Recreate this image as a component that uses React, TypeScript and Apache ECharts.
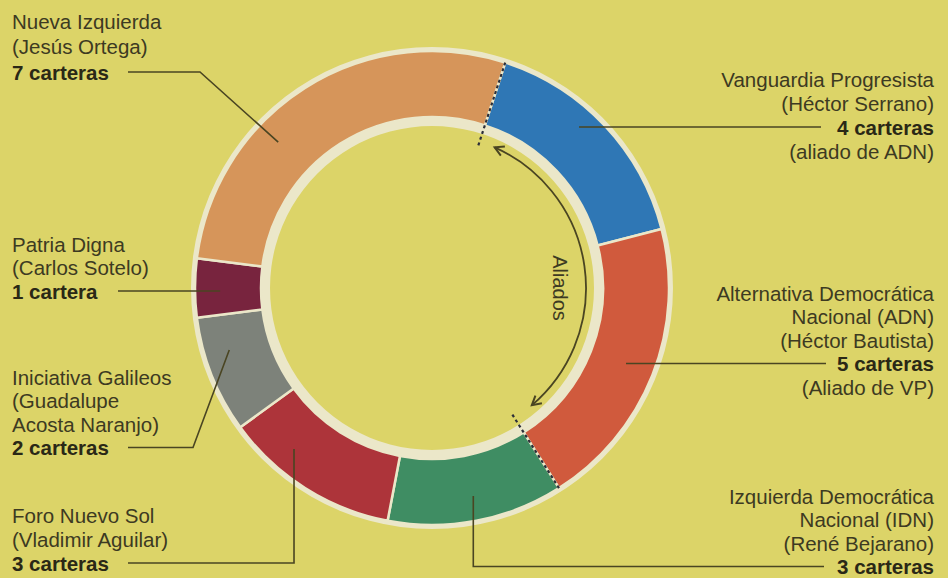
import React, { useEffect, useRef } from 'react';
import * as echarts from 'echarts';

// ---- data ----
const parties = [
  'Vanguardia Progresista',
  'Alternativa Democrática Nacional (ADN)',
  'Izquierda Democrática Nacional (IDN)',
  'Foro Nuevo Sol',
  'Iniciativa Galileos',
  'Patria Digna',
  'Nueva Izquierda',
];
const carteras = [4, 5, 3, 3, 2, 1, 7];
const labelHeads: string[][] = [
  ['Vanguardia Progresista', '(Héctor Serrano)'],
  ['Alternativa Democrática', 'Nacional (ADN)', '(Héctor Bautista)'],
  ['Izquierda Democrática', 'Nacional (IDN)', '(René Bejarano)'],
  ['Foro Nuevo Sol', '(Vladimir Aguilar)'],
  ['Iniciativa Galileos', '(Guadalupe', 'Acosta Naranjo)'],
  ['Patria Digna', '(Carlos Sotelo)'],
  ['Nueva Izquierda', '(Jesús Ortega)'],
];
const labelNotes = ['(aliado de ADN)', '(Aliado de VP)', '', '', '', '', ''];
const allyIndices = [0, 1];
const alliesLabel = 'Aliados';

// ---- style / layout ----
const colors = ['#2f77b5', '#d05a3d', '#3f8d63', '#ad343a', '#7d827a', '#78243e', '#d6955a'];
const BG = '#dcd468';
const RIM = '#ebe7c9';
const TEXT = '#3d3a22';
const BOLD = '#2a2816';
const LINE = '#4a4522';
const CX = 432;
const CY = 288;
const R_IN = 171;
const R_OUT = 237;
const START_FROM_TOP = 18; // degrees clockwise from 12 o'clock
const FONT = '"Liberation Sans", Arial, sans-serif';
const FS = 20.5;

type Lay = {
  side: 'left' | 'right';
  x: number;
  y0: number;
  lh: number;
  frac: number;
  kind: 'h' | 'down' | 'elbow';
  end: number;
  elbowX?: number;
};
const layouts: Lay[] = [
  { side: 'right', x: 934, y0: 79, lh: 24, frac: 0.45, kind: 'h', end: 821 },
  { side: 'right', x: 934, y0: 293, lh: 23.5, frac: 0.53, kind: 'h', end: 826 },
  { side: 'right', x: 934, y0: 496, lh: 23.5, frac: 0.49, kind: 'down', end: 824 },
  { side: 'left', x: 12, y0: 515, lh: 24, frac: 0.69, kind: 'down', end: 128 },
  { side: 'left', x: 12, y0: 377, lh: 23.5, frac: 0.66, kind: 'elbow', elbowX: 193, end: 128 },
  { side: 'left', x: 12, y0: 244, lh: 23.5, frac: 0.64, kind: 'h', end: 118 },
  { side: 'left', x: 12, y0: 21, lh: 25.5, frac: 0.36, kind: 'elbow', elbowX: 200, end: 128 },
];

const total = carteras.reduce((a, b) => a + b, 0);
const degPer = 360 / total;
const rad = (d: number) => (d * Math.PI) / 180;
const polar = (thetaFromTop: number, r: number): [number, number] => [
  CX + r * Math.sin(rad(thetaFromTop)),
  CY - r * Math.cos(rad(thetaFromTop)),
];
const sliceStart = (i: number) =>
  START_FROM_TOP + carteras.slice(0, i).reduce((a, b) => a + b, 0) * degPer;

function buildGraphics() {
  const els: any[] = [];
  // labels + leader lines
  parties.forEach((_, i) => {
    const L = layouts[i];
    const lines = [...labelHeads[i]];
    const v = carteras[i];
    const boldLine = `${v} ${v === 1 ? 'cartera' : 'carteras'}`;
    const boldIdx = lines.length;
    lines.push(boldLine);
    if (labelNotes[i]) lines.push(labelNotes[i]);
    els.push({
      type: 'text',
      z: 20,
      style: {
        text: lines.map((t, k) => (k === boldIdx ? `{b|${t}}` : `{n|${t}}`)).join('\n'),
        x: L.x,
        y: L.y0 - L.lh / 2,
        textAlign: L.side === 'left' ? 'left' : 'right',
        textVerticalAlign: 'top',
        rich: {
          n: { fontSize: FS, fontFamily: FONT, fill: TEXT, lineHeight: L.lh },
          b: { fontSize: FS, fontFamily: FONT, fontWeight: 'bold', fill: BOLD, lineHeight: L.lh },
        },
      },
    });
    const rowY = L.y0 + boldIdx * L.lh;
    const theta = sliceStart(i) + L.frac * v * degPer;
    const [ax, ay] = polar(theta, 212);
    let pts: number[][];
    if (L.kind === 'h') pts = [[ax, rowY], [L.end, rowY]];
    else if (L.kind === 'down') pts = [[ax, ay], [ax, rowY], [L.end, rowY]];
    else pts = [[ax, ay], [L.elbowX as number, rowY], [L.end, rowY]];
    els.push({
      type: 'polyline',
      z: 15,
      shape: { points: pts },
      style: { stroke: LINE, lineWidth: 1.6, fill: 'none' },
    });
  });

  // dashed separators at the alliance boundaries
  const a0 = sliceStart(allyIndices[0]);
  const last = allyIndices[allyIndices.length - 1];
  const a1 = sliceStart(last) + carteras[last] * degPer;
  [a0, a1].forEach((a) => {
    const [x1, y1] = polar(a, 150);
    const [x2, y2] = polar(a, R_OUT);
    els.push({
      type: 'line',
      z: 12,
      shape: { x1, y1, x2, y2 },
      style: { stroke: '#2c2e38', lineWidth: 2.2, lineDash: [3, 3] },
    });
  });

  // arrow arc
  const AR = 154;
  const t0 = a0 + 6;
  const t1 = a1 - 8;
  els.push({
    type: 'arc',
    z: 12,
    shape: { cx: CX, cy: CY, r: AR, startAngle: rad(t0 - 90), endAngle: rad(t1 - 90), clockwise: true },
    style: { stroke: LINE, lineWidth: 1.8, fill: 'none' },
  });
  const head = (t: number, sign: number) => {
    const [px, py] = polar(t, AR);
    const dx = sign * Math.cos(rad(t));
    const dy = sign * Math.sin(rad(t));
    const nx = -dy;
    const ny = dx;
    const Ln = 9;
    const W = 5;
    return [
      [px - dx * Ln + nx * W, py - dy * Ln + ny * W],
      [px, py],
      [px - dx * Ln - nx * W, py - dy * Ln - ny * W],
    ];
  };
  els.push({ type: 'polyline', z: 12, shape: { points: head(t0, -1) }, style: { stroke: LINE, lineWidth: 2, fill: 'none' } });
  els.push({ type: 'polyline', z: 12, shape: { points: head(t1, 1) }, style: { stroke: LINE, lineWidth: 2, fill: 'none' } });

  els.push({
    type: 'text',
    z: 20,
    x: 560,
    y: 288,
    rotation: -Math.PI / 2,
    style: {
      text: alliesLabel,
      x: 0,
      y: 0,
      textAlign: 'center',
      textVerticalAlign: 'middle',
      fontSize: 20,
      fontFamily: FONT,
      fill: TEXT,
    },
  });
  return els;
}

export default function App() {
  const ref = useRef<HTMLDivElement>(null);
  useEffect(() => {
    document.body.style.margin = '0';
    if (!ref.current) return;
    const chart = echarts.init(ref.current, undefined, { renderer: 'svg' });
    chart.setOption({
      animation: false,
      backgroundColor: BG,
      series: [
        {
          type: 'pie',
          silent: true,
          center: [CX, CY],
          radius: [R_OUT - 1, R_OUT + 4],
          label: { show: false },
          labelLine: { show: false },
          itemStyle: { color: RIM },
          data: [{ value: 1, name: 'rim' }],
          z: 1,
        },
        {
          type: 'pie',
          silent: true,
          center: [CX, CY],
          radius: [R_IN - 9, R_IN + 1],
          label: { show: false },
          labelLine: { show: false },
          itemStyle: { color: RIM },
          data: [{ value: 1, name: 'inner' }],
          z: 1,
        },
        {
          type: 'pie',
          silent: true,
          center: [CX, CY],
          radius: [R_IN, R_OUT],
          startAngle: 90 - START_FROM_TOP,
          clockwise: true,
          avoidLabelOverlap: false,
          label: { show: false },
          labelLine: { show: false },
          itemStyle: { borderColor: RIM, borderWidth: 2.5 },
          data: parties.map((p, i) => ({ name: p, value: carteras[i], itemStyle: { color: colors[i] } })),
          z: 2,
        },
      ],
      graphic: { elements: buildGraphics() },
    });
    return () => chart.dispose();
  }, []);
  return <div ref={ref} style={{ width: 948, height: 578, background: BG }} />;
}
